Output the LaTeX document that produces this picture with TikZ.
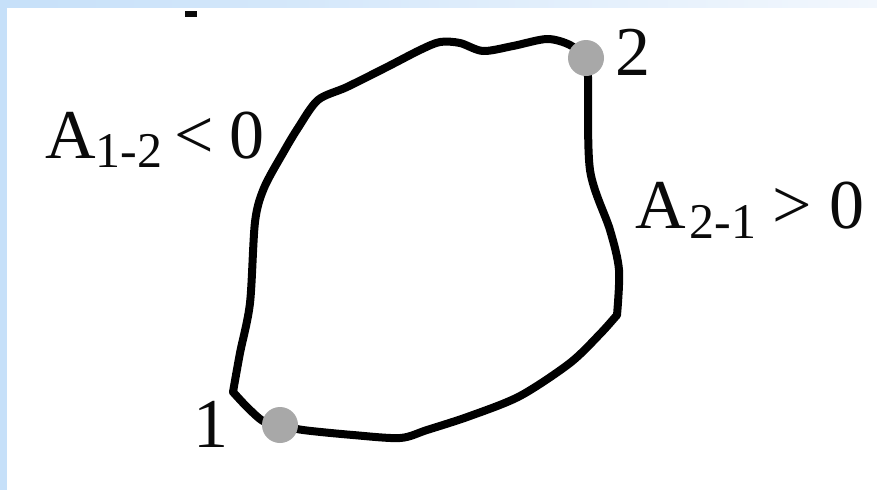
\documentclass[tikz,border=0pt]{standalone}
\usepackage{fontspec}
\setmainfont{Liberation Serif}
\definecolor{edgeblue}{RGB}{198,224,249}
\definecolor{edgepale}{RGB}{242,247,253}
\definecolor{dotgray}{RGB}{168,168,168}
\definecolor{inkc}{RGB}{10,10,10}
\begin{document}
\begin{tikzpicture}[x=1pt,y=-1pt,
  lbl/.style={inner sep=0pt,text=inkc,font=\fontsize{70}{80}\selectfont},
  dotnode/.style={circle,fill=dotgray,minimum size=36pt,inner sep=0pt},
  loopline/.style={line width=8pt,black,line cap=round,line join=round}]
\useasboundingbox (0,0) rectangle (877,490);
\fill[white] (0,0) rectangle (877,490);
% light blue frame strips
\shade[left color=edgeblue,right color=edgepale] (0,0) rectangle (877,7);
\fill[edgeblue] (0,0) rectangle (7,490);
% small dash at top
\fill[inkc] (185,11) rectangle (197,17);
% the loop
\coordinate (c1) at (280,425);
\coordinate (c2) at (586,58);
\draw[loopline] plot[smooth,tension=0.5] coordinates {(280,425) (263,421) (247,407) (233,392)};
\draw[loopline] plot[smooth,tension=0.5] coordinates {(233,392) (240,353) (250,303) (255,222) (264,188) (283,153) (298,128) (318,100) (347,87) (387,67) (420,50) (440,42) (460,43) (483,51) (513,46) (547,39) (570,45) (586,58)};
\draw[loopline] plot[smooth,tension=0.5] coordinates {(586,58) (588,77) (590,170) (610,230) (619,270) (617,315)};
\draw[loopline] plot[smooth,tension=0.5] coordinates {(617,315) (600,334) (570,363) (520,396) (470,416) (427,430) (400,438) (353,435) (303,430) (280,425)};
% points
\node[dotnode] (p1) at (c1) {};
\node[dotnode] (p2) at (c2) {};
% labels
\node[lbl,anchor=base] (n1) at (211,447) {1};
\node[lbl,anchor=base] (n2) at (633,75) {2};
\node[lbl,anchor=base west] (a12) at (45,158) {A\raisebox{-9pt}{\fontsize{50}{50}\selectfont 1-2}\kern12pt<\kern16pt0};
\node[lbl,anchor=base west] (a21) at (635,228) {A\kern4pt\raisebox{-10pt}{\fontsize{50}{50}\selectfont 2-1}\kern16pt>\kern18pt0};
\end{tikzpicture}
\end{document}
